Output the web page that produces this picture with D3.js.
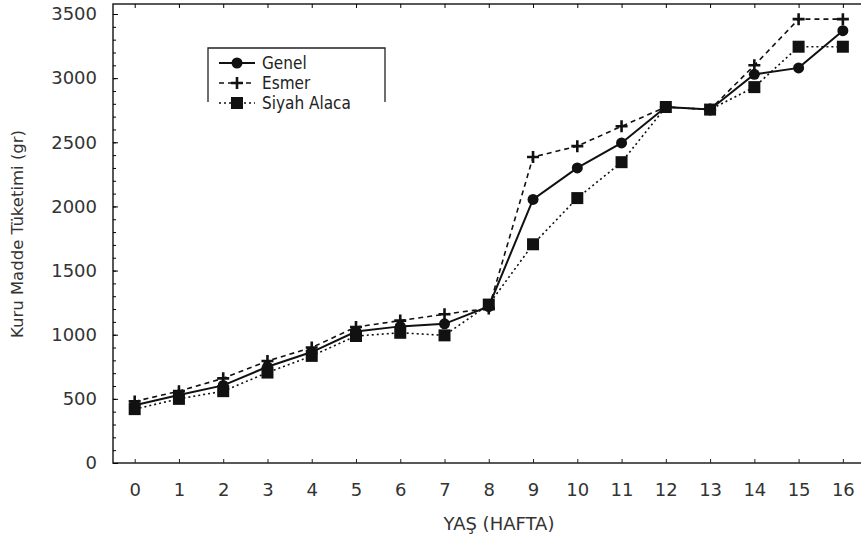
<!DOCTYPE html>
<html>
<head>
<meta charset="utf-8">
<script src="https://cdn.jsdelivr.net/npm/d3@7"></script>
<style>
body { margin: 0; background: #fff; }
text { font-family: "DejaVu Sans", sans-serif; fill: #222; }
</style>
</head>
<body>
<div id="chart"></div>
<script>
var width = 861;
var height = 545;

// haftalar
var weeks = [0, 1, 2, 3, 4, 5, 6, 7, 8, 9, 10, 11, 12, 13, 14, 15, 16];
var genel = [450, 530, 605, 750, 865, 1025, 1065, 1085, 1220, 2055, 2300, 2495, 2775, 2755, 3030, 3080, 3370];
var esmer = [480, 560, 660, 795, 900, 1060, 1110, 1160, 1205, 2385, 2470, 2625, 2775, 2755, 3100, 3460, 3460];
var siyahAlaca = [420, 500, 560, 705, 835, 990, 1015, 995, 1235, 1705, 2065, 2345, 2775, 2755, 2930, 3245, 3245];
var yTicks = [0, 500, 1000, 1500, 2000, 2500, 3000, 3500];

var series = [
    { name: "Genel", values: genel, dash: null, sw: 2, marker: "circle" },
    { name: "Esmer", values: esmer, dash: "5,4", sw: 1.6, marker: "plus" },
    { name: "Siyah Alaca", values: siyahAlaca, dash: "2,3", sw: 1.6, marker: "square" }
];

var margin = { left: 113, top: 4, right: 0, bottom: 82 };

var x = d3.scaleLinear()
    .domain([-0.49, 16.5])
    .range([margin.left, width + 4]);

var y = d3.scaleLinear()
    .domain([0, 3578])
    .range([height - margin.bottom, margin.top]);

var svg = d3.select("#chart").append("svg")
    .attr("width", width)
    .attr("height", height);

var x0 = margin.left, y0 = height - margin.bottom;

// çerçeve
svg.append("path")
    .attr("d", "M" + width + "," + margin.top + "H" + x0 + "V" + y0 + "H" + width)
    .attr("fill", "none")
    .attr("stroke", "#222")
    .attr("stroke-width", 1.5);

// x ekseni
var xAxis = svg.append("g")
    .attr("transform", "translate(0," + y0 + ")")
    .call(d3.axisBottom(x).tickValues(weeks).tickSize(-4).tickPadding(20).tickFormat(d3.format("d")));
xAxis.select(".domain").remove();
xAxis.selectAll("text").style("font-size", "18px").style("font-family", "DejaVu Sans").style("fill", "#333");
xAxis.selectAll("line").attr("stroke", "#222");

var xTop = svg.append("g")
    .attr("transform", "translate(0," + margin.top + ")")
    .call(d3.axisTop(x).tickValues(weeks).tickSize(-4).tickFormat(""));
xTop.select(".domain").remove();

// y ekseni
var yAxis = svg.append("g")
    .attr("transform", "translate(" + x0 + ",0)")
    .call(d3.axisLeft(y).tickValues(yTicks).tickSize(-5).tickPadding(16).tickFormat(d3.format("d")));
yAxis.select(".domain").remove();
yAxis.selectAll("text").style("font-size", "18px").style("font-family", "DejaVu Sans").style("fill", "#333");

var yMinor = svg.append("g")
    .attr("transform", "translate(" + x0 + ",0)")
    .call(d3.axisLeft(y).tickValues(d3.range(0, 3600, 100)).tickSize(-3).tickFormat(""));
yMinor.select(".domain").remove();

// eksen başlıkları
svg.append("text")
    .attr("x", 499)
    .attr("y", 530)
    .attr("text-anchor", "middle")
    .style("font-size", "18px")
    .style("fill", "#333")
    .text("YAŞ (HAFTA)");

svg.append("text")
    .attr("transform", "translate(23,234) rotate(-90)")
    .attr("text-anchor", "middle")
    .style("font-size", "16.5px")
    .style("fill", "#333")
    .text("Kuru Madde Tüketimi (gr)");

function drawMarker(g, type, cx, cy) {
    if (type === "circle") {
        g.append("circle").attr("cx", cx).attr("cy", cy).attr("r", 5.5).attr("fill", "#111");
    } else if (type === "square") {
        g.append("rect").attr("x", cx - 6).attr("y", cy - 6).attr("width", 12).attr("height", 12).attr("fill", "#111");
    } else {
        g.append("path")
            .attr("d", "M" + (cx - 6) + "," + cy + "H" + (cx + 6) + "M" + cx + "," + (cy - 6) + "V" + (cy + 6))
            .attr("stroke", "#111").attr("stroke-width", 2.6);
    }
}

var line = d3.line()
    .x(function(d, i) { return x(weeks[i]); })
    .y(function(d) { return y(d); });

// çizgiler ve işaretler (arkadan öne)
series.slice().reverse().forEach(function(s) {
    var g = svg.append("g");
    g.append("path")
        .attr("d", line(s.values))
        .attr("fill", "none")
        .attr("stroke", "#111")
        .attr("stroke-width", s.sw)
        .attr("stroke-dasharray", s.dash);
    s.values.forEach(function(v, i) {
        drawMarker(g, s.marker, x(weeks[i]), y(v));
    });
});

// lejant
var legend = svg.append("g");
legend.append("path")
    .attr("d", "M208,102V48H385V102")
    .attr("fill", "none")
    .attr("stroke", "#222")
    .attr("stroke-width", 1.3);

series.forEach(function(s, i) {
    var ly = 63 + i * 20;
    legend.append("line")
        .attr("x1", 219).attr("x2", 255)
        .attr("y1", ly).attr("y2", ly)
        .attr("stroke", "#111")
        .attr("stroke-width", s.sw)
        .attr("stroke-dasharray", s.dash);
    drawMarker(legend, s.marker, 237, ly);
    legend.append("text")
        .attr("x", 262)
        .attr("y", ly + 6)
        .style("font-size", "17px")
        .style("font-family", "'Liberation Sans Narrow', 'DejaVu Sans Condensed', sans-serif")
        .style("fill", "#222")
        .text(s.name);
});
</script>
</body>
</html>
